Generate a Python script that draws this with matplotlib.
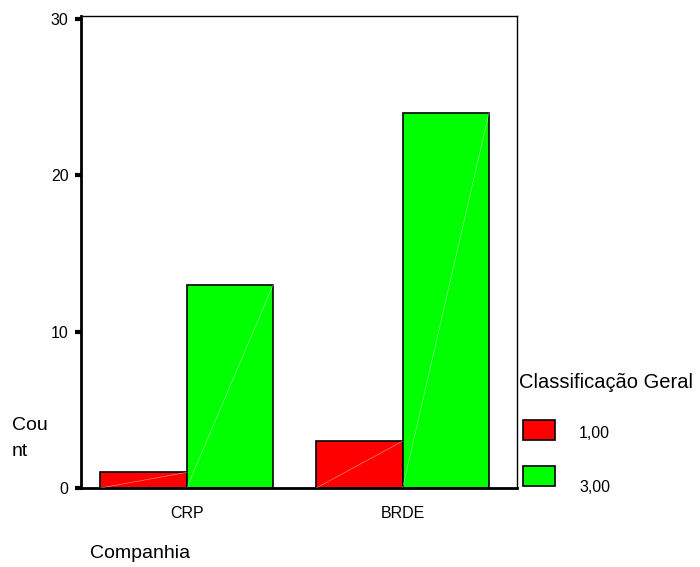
import numpy as np
import matplotlib
matplotlib.use("Agg")
import matplotlib.pyplot as plt
from matplotlib.patches import Rectangle

plt.rcParams['font.family'] = ['Liberation Sans', 'DejaVu Sans']

companhias = ["CRP", "BRDE"]
classes = ["1,00", "3,00"]
cores = ["#ff0000", "#00ff00"]
contagem = {
    "1,00": [1, 3],
    "3,00": [13, 24],
}
yticks = [0, 10, 20, 30]

fig = plt.figure(figsize=(7, 5.67), dpi=100)
ax = fig.add_axes([81 / 700, 79 / 567, 436 / 700, 472 / 567])

x = np.arange(len(companhias))
w = 0.4
for i, c in enumerate(classes):
    pos = x + (i - 0.5) * w
    ax.bar(pos, contagem[c], width=w, color=cores[i], edgecolor="black", linewidth=1.2, zorder=2)
    # thin white diagonal like the SPSS gradient artefact
    for p, v in zip(pos, contagem[c]):
        ax.plot([p - w / 2, p + w / 2], [0, v], color="white", lw=0.4, alpha=0.6, zorder=3)

ax.set_xlim(-0.49, 1.53)
ax.set_ylim(0, 30.2)
ax.set_xticks(x)
ax.set_xticklabels(companhias, fontsize=11.5)
ax.set_yticks(yticks)
ax.set_yticklabels([str(t) for t in yticks], fontsize=11.5)
ax.tick_params(axis="x", length=0, pad=13)
ax.tick_params(axis="y", length=4, width=3, direction="out", pad=5)

for s in ["left", "bottom"]:
    ax.spines[s].set_linewidth(2)
for s in ["top", "right"]:
    ax.spines[s].set_linewidth(1)

fig.text(12 / 700, 1 - 425 / 567, "Cou", fontsize=14, va="center", ha="left")
fig.text(12 / 700, 1 - 451 / 567, "nt", fontsize=14, va="center", ha="left")
fig.text(90 / 700, 1 - 554 / 567, "Companhia", fontsize=14, va="center", ha="left")

# legenda
fig.text(519 / 700, 1 - 383 / 567, "Classificação Geral", fontsize=14.5, va="center", ha="left")
leg_y = [420, 466]
lab_y = [433, 487]
for i, c in enumerate(classes):
    fig.patches.append(Rectangle((523 / 700, 1 - (leg_y[i] + 20) / 567), 32 / 700, 20 / 567,
                                 transform=fig.transFigure, facecolor=cores[i],
                                 edgecolor="black", linewidth=1.2))
    fig.text(579 / 700, 1 - lab_y[i] / 567, c, fontsize=11.5, va="center", ha="left")

fig.savefig("out.png", dpi=100)
